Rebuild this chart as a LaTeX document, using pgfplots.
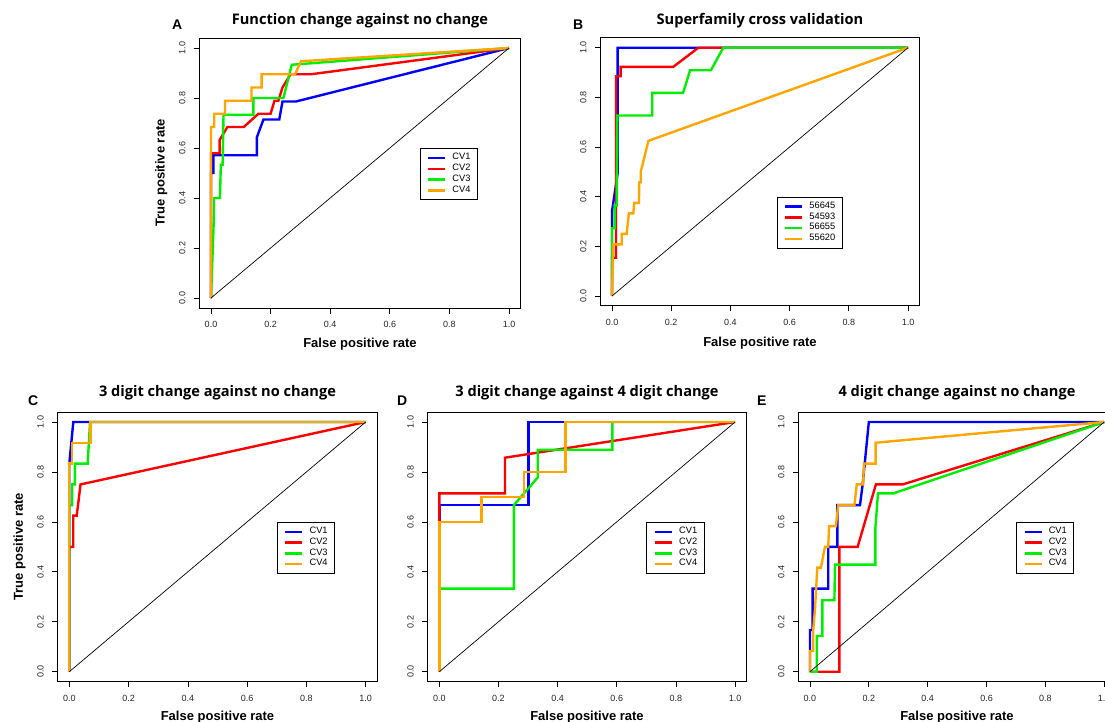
\documentclass[border=0pt]{standalone}
\usepackage{fontspec}
\setmainfont{Liberation Sans}
\newfontfamily\titlefont{Open Sans}
\usepackage{pgfplots}
\pgfplotsset{compat=1.18}

\definecolor{rblue}{RGB}{0,0,255}
\definecolor{rred}{RGB}{255,0,0}
\definecolor{rgreen}{RGB}{0,238,0}
\definecolor{rorange}{RGB}{255,165,0}

\pgfplotsset{
  roc/.style={
    scale only axis,
    anchor=south west,
    xmin=-0.04, xmax=1.04, ymin=-0.04, ymax=1.04,
    xtick={0,0.2,0.4,0.6,0.8,1}, ytick={0,0.2,0.4,0.6,0.8,1},
    xtick pos=left, ytick pos=left,
    tick align=outside,
    major tick length=5.5pt,
    tick style={black, line width=0.7pt},
    axis line style={line width=0.9pt},
    /pgf/number format/.cd, fixed, fixed zerofill, precision=1, assume math mode=true,
    /pgfplots/.cd,
    ticklabel style={font=\fontsize{9}{9}\selectfont, text=black!85},
    xticklabel style={anchor=north, inner ysep=8pt},
    yticklabel style={rotate=90, anchor=south, inner ysep=8pt},
    legend cell align=left,
    legend style={draw=black, line width=0.9pt, fill=white,
      font=\fontsize{9.3}{10}\selectfont, inner xsep=7pt, inner ysep=4pt,
      row sep=0pt, /tikz/column sep=6pt, anchor=north west,
      nodes={inner sep=0pt, text height=7pt, text depth=3.8pt}},
    legend image code/.code={\draw[#1] (0pt,0pt) -- (17pt,0pt);},
  },
  c1/.style={rblue, line width=2.4pt},
  c2/.style={rred, line width=2.4pt},
  c3/.style={rgreen, line width=2.4pt},
  c4/.style={rorange, line width=2.4pt},
  diag/.style={black, line width=0.7pt, forget plot},
}

\begin{document}
\begin{tikzpicture}
\useasboundingbox (0,0) rectangle (1105pt,-722pt);

% A: function change against no change
\begin{axis}[roc, at={(199.08pt,-308pt)}, width=321.84pt, height=270pt,
  legend style={at={(0.685,0.592)}}]
\addplot[c1] coordinates {(0,0) (0,0.5) (0.008,0.5) (0.008,0.571) (0.154,0.571) (0.154,0.643) (0.176,0.714) (0.229,0.714) (0.24,0.786) (0.285,0.786) (1,1)};
\addplot[c2] coordinates {(0,0) (0,0.579) (0.029,0.579) (0.029,0.632) (0.055,0.684) (0.11,0.684) (0.159,0.737) (0.2,0.737) (0.213,0.789) (0.226,0.789) (0.24,0.842) (0.267,0.895) (0.336,0.895) (1,1)};
\addplot[c3] coordinates {(0,0) (0.01,0.333) (0.01,0.4) (0.03,0.4) (0.033,0.533) (0.039,0.533) (0.042,0.733) (0.142,0.733) (0.142,0.8) (0.243,0.8) (0.271,0.933) (1,1)};
\addplot[c4] coordinates {(0,0) (0,0.684) (0.011,0.684) (0.011,0.737) (0.047,0.737) (0.047,0.789) (0.136,0.789) (0.136,0.842) (0.17,0.842) (0.17,0.895) (0.282,0.895) (0.302,0.947) (1,1)};
\addplot[diag] coordinates {(0,0) (1,1)};
\legend{CV1,CV2,CV3,CV4}
\end{axis}

% B: superfamily cross validation
\begin{axis}[roc, at={(600.16pt,-305.93pt)}, width=319.68pt, height=268.16pt,
  legend style={at={(0.552,0.407)}}]
\addplot[c1] coordinates {(0,0) (0,0.34) (0.019,0.494) (0.019,1) (1,1)};
\addplot[c2] coordinates {(0,0) (0,0.154) (0.0135,0.154) (0.0135,0.885) (0.029,0.885) (0.029,0.923) (0.207,0.923) (0.292,1) (1,1)};
\addplot[c3] coordinates {(0,0) (0,0.273) (0.009,0.273) (0.009,0.364) (0.016,0.364) (0.018,0.727) (0.136,0.727) (0.136,0.818) (0.24,0.818) (0.264,0.909) (0.334,0.909) (0.376,1) (1,1)};
\addplot[c4] coordinates {(0,0) (0.0045,0.208) (0.033,0.208) (0.033,0.25) (0.0495,0.25) (0.052,0.279) (0.057,0.333) (0.072,0.333) (0.075,0.375) (0.091,0.375) (0.092,0.458) (0.097,0.458) (0.097,0.5) (0.123,0.625) (1,1)};
\addplot[diag] coordinates {(0,0) (1,1)};
\legend{56645,54593,56655,55620}
\end{axis}

% C: 3 digit change against no change
\begin{axis}[roc, at={(57.44pt,-681.7pt)}, width=320.1pt, height=269.7pt,
  legend style={at={(0.685,0.592)}}]
\addplot[c1] coordinates {(0,0) (0,0.833) (0.0135,1) (1,1)};
\addplot[c2] coordinates {(0,0) (0,0.5) (0.0135,0.5) (0.0135,0.625) (0.025,0.625) (0.038,0.75) (1,1)};
\addplot[c3] coordinates {(0,0) (0,0.667) (0.01,0.667) (0.01,0.75) (0.019,0.75) (0.019,0.833) (0.062,0.833) (0.07,1) (1,1)};
\addplot[c4] coordinates {(0,0) (0,0.833) (0.009,0.833) (0.009,0.917) (0.072,0.917) (0.072,1) (1,1)};
\addplot[diag] coordinates {(0,0) (1,1)};
\legend{CV1,CV2,CV3,CV4}
\end{axis}

% D: 3 digit change against 4 digit change
\begin{axis}[roc, at={(427.47pt,-681.7pt)}, width=319.4pt, height=269.7pt,
  legend style={at={(0.685,0.592)}}]
\addplot[c1] coordinates {(0,0) (0,0.667) (0.301,0.667) (0.301,1) (1,1)};
\addplot[c2] coordinates {(0,0) (0,0.714) (0.222,0.714) (0.222,0.857) (1,1)};
\addplot[c3] coordinates {(0,0) (0,0.333) (0.252,0.333) (0.252,0.667) (0.333,0.778) (0.333,0.889) (0.585,0.889) (0.585,1) (1,1)};
\addplot[c4] coordinates {(0,0) (0,0.6) (0.143,0.6) (0.143,0.7) (0.286,0.7) (0.286,0.8) (0.427,0.8) (0.427,1) (1,1)};
\addplot[diag] coordinates {(0,0) (1,1)};
\legend{CV1,CV2,CV3,CV4}
\end{axis}

% E: 4 digit change against no change
\begin{axis}[roc, at={(798.2pt,-681.7pt)}, width=317.8pt, height=269.7pt,
  legend style={at={(0.685,0.592)}}]
\addplot[c1] coordinates {(0,0) (0,0.167) (0.009,0.167) (0.009,0.333) (0.062,0.333) (0.062,0.5) (0.093,0.5) (0.093,0.667) (0.17,0.667) (0.179,0.75) (0.2,1) (1,1)};
\addplot[c2] coordinates {(0,0) (0.1,0) (0.1,0.5) (0.162,0.5) (0.224,0.75) (0.315,0.75) (1,1)};
\addplot[c3] coordinates {(0,0) (0.023,0) (0.023,0.143) (0.042,0.143) (0.042,0.286) (0.083,0.286) (0.085,0.429) (0.222,0.429) (0.222,0.571) (0.231,0.714) (0.283,0.714) (1,1)};
\addplot[c4] coordinates {(0,0) (0,0.083) (0.011,0.083) (0.011,0.167) (0.017,0.25) (0.025,0.417) (0.037,0.417) (0.051,0.5) (0.062,0.5) (0.065,0.583) (0.088,0.583) (0.096,0.667) (0.151,0.667) (0.159,0.75) (0.181,0.75) (0.183,0.833) (0.223,0.833) (0.223,0.917) (1,1)};
\addplot[diag] coordinates {(0,0) (1,1)};
\legend{CV1,CV2,CV3,CV4}
\end{axis}

% titles
\begin{scope}[every node/.style={font=\titlefont\bfseries\fontsize{14.6}{16}\selectfont, anchor=base}]
\node at (360pt,-25pt) {Function change against no change};
\node at (760pt,-25pt) {Superfamily cross validation};
\node at (217.5pt,-396.7pt) {3 digit change against no change};
\node at (587pt,-396.7pt) {3 digit change against 4 digit change};
\node at (957pt,-396.7pt) {4 digit change against no change};
\end{scope}

% panel letters
\begin{scope}[every node/.style={font=\bfseries\fontsize{14}{15}\selectfont, anchor=base west, inner sep=0pt}]
\node at (172pt,-30pt) {A};
\node at (573pt,-30pt) {B};
\node at (28pt,-405pt) {C};
\node at (397pt,-405pt) {D};
\node at (757pt,-405pt) {E};
\end{scope}

% axis titles
\begin{scope}[every node/.style={font=\bfseries\fontsize{13}{14}\selectfont, anchor=base, inner sep=0pt}]
\node at (360pt,-347pt) {False positive rate};
\node at (760pt,-346pt) {False positive rate};
\node at (217.5pt,-720pt) {False positive rate};
\node at (587pt,-720pt) {False positive rate};
\node at (957pt,-720pt) {False positive rate};
\node[rotate=90] at (164.5pt,-173pt) {True positive rate};
\node[rotate=90] at (22.9pt,-546.85pt) {True positive rate};
\end{scope}
\end{tikzpicture}
\end{document}
